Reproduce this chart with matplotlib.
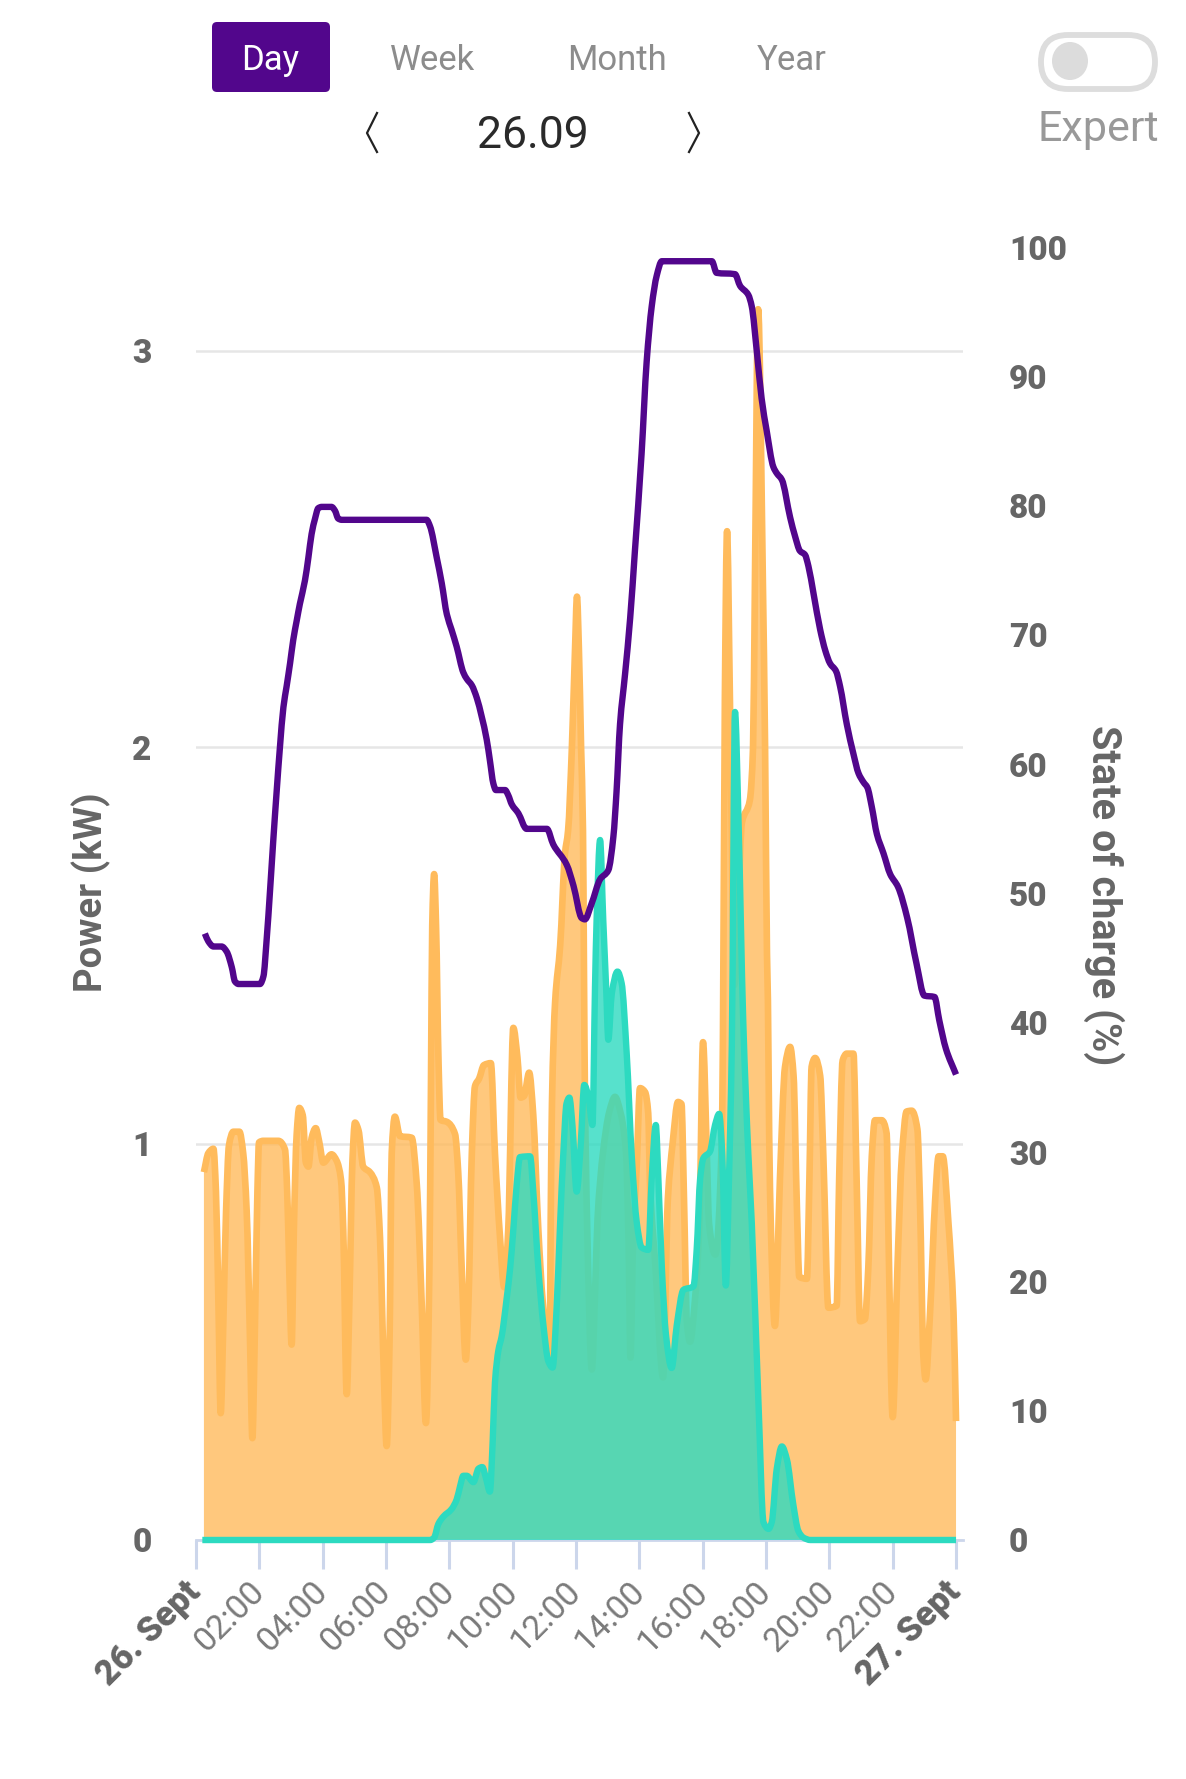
import numpy as np
import matplotlib
matplotlib.use("Agg")
import matplotlib.pyplot as plt
from matplotlib.patches import FancyBboxPatch, Ellipse, PathPatch
from matplotlib.path import Path

plt.rcParams['font.family'] = ['Roboto', 'DejaVu Sans']

# ---- data ----
load_h = [0.25,0.39,0.55,0.63,0.71,0.78,0.86,0.95,1.04,1.18,1.37,1.49,1.6,1.71,1.78,1.85,1.94,1.99,2.13,2.6,2.81,2.88,2.95,3.02,3.09,3.18,3.26,3.37,3.47,3.55,3.65,3.78,3.89,4.02,4.28,4.44,4.58,4.65,4.76,4.84,4.94,5.02,5.13,5.28,5.49,5.71,5.81,5.94,6.02,6.11,6.18,6.28,6.44,6.81,6.97,7.13,7.26,7.37,7.42,7.46,7.52,7.58,7.66,7.72,7.92,8.18,8.28,8.39,8.52,8.6,8.71,8.81,8.94,9.09,9.31,9.44,9.6,9.73,9.86,10.02,10.15,10.25,10.36,10.52,10.65,10.81,10.95,11.1,11.17,11.2,11.24,11.34,11.5,11.65,11.75,11.87,11.97,12.03,12.09,12.16,12.22,12.25,12.28,12.35,12.5,12.6,12.68,12.85,13.05,13.23,13.4,13.58,13.66,13.72,13.8,13.92,14.02,14.18,14.28,14.34,14.5,14.75,14.9,15.05,15.22,15.33,15.41,15.5,15.6,15.75,15.9,16.01,16.13,16.2,16.4,16.6,16.64,16.7,16.77,16.86,17.0,17.24,17.49,17.59,17.65,17.75,17.9,17.97,18.03,18.06,18.1,18.15,18.28,18.44,18.6,18.76,18.87,18.97,19.05,19.29,19.37,19.44,19.55,19.71,19.81,19.97,20.23,20.31,20.42,20.55,20.76,20.86,20.97,21.12,21.23,21.34,21.44,21.65,21.81,21.86,22.0,22.15,22.29,22.44,22.6,22.78,22.86,22.97,23.04,23.18,23.34,23.45,23.58,23.76,23.92,24.0]
load_kw = [.928,.976,.987,.879,.59,.32,.54,.83,.995,1.03,1.03,.976,.83,.49,.257,.49,.88,1.003,1.007,1.007,.985,.88,.667,.493,.783,1.024,1.09,1.072,.952,.942,1.014,1.039,1.005,.952,.973,.957,.908,.783,.368,.59,.957,1.053,1.034,.942,.928,.889,.764,.397,.237,.493,.976,1.068,1.019,1.015,.899,.59,.295,.686,1.15,1.55,1.68,1.55,1.2,1.06,1.055,1.024,.928,.686,.455,.59,.976,1.145,1.164,1.198,1.203,.976,.764,.638,.783,1.292,1.217,1.116,1.12,1.179,1.072,.783,.6,.5,.47,.8,1.1,1.357,1.5,1.73,1.79,2.0,2.25,2.38,2.25,2.0,1.79,1.45,1.14,.8,.43,.62,.81,.976,1.08,1.118,1.08,.976,.75,.46,.75,.95,1.14,1.13,1.077,.89,.7,.41,.86,1.0,1.105,1.10,.86,.55,.5,.6,.81,1.256,.976,.8,.72,1.0,1.27,2.12,2.545,2.12,1.4,1.81,1.867,2.0,2.42,3.105,2.42,2.0,1.48,1.36,1.02,.8,.54,.912,1.194,1.244,1.171,.856,.664,.659,.912,1.194,1.216,1.171,.968,.586,.591,.912,1.21,1.227,1.227,.912,.552,.557,.687,.968,1.059,1.059,1.025,.8,.31,.687,.968,1.081,1.083,1.036,.856,.462,.405,.574,.856,.968,.968,.8,.574,.3]

pv_h = [0.2,7.4,7.52,7.65,7.81,8.07,8.23,8.34,8.44,8.55,8.76,8.92,9.04,9.16,9.28,9.37,9.44,9.55,9.65,9.81,9.92,10.02,10.13,10.23,10.55,10.65,10.81,10.97,11.13,11.26,11.39,11.49,11.6,11.7,11.79,11.89,12.02,12.15,12.26,12.39,12.52,12.6,12.65,12.76,12.86,12.95,13.02,13.13,13.31,13.44,13.6,13.76,13.92,14.07,14.28,14.39,14.52,14.6,14.71,14.84,15.02,15.18,15.39,15.71,15.81,15.92,16.02,16.23,16.39,16.52,16.62,16.73,16.83,16.92,17.02,17.13,17.28,17.44,17.55,17.76,17.92,18.08,18.18,18.34,18.5,18.66,18.86,19.02,19.18,19.4,24.0]
pv_kw = [0,0,.006,.04,.059,.078,.102,.136,.162,.162,.146,.18,.184,.155,.122,.252,.397,.479,.513,.609,.686,.783,.899,.966,.968,.879,.686,.542,.45,.435,.59,.783,.976,1.101,1.116,1.043,.879,1.0,1.148,1.119,1.047,1.396,1.564,1.766,1.564,1.396,1.262,1.379,1.434,1.405,1.228,.968,.8,.738,.732,.912,1.047,.912,.687,.518,.434,.541,.631,.64,.732,.912,.963,.98,1.047,1.075,.968,.642,.912,1.25,2.089,1.817,1.31,.976,.8,.349,.045,.028,.045,.18,.236,.203,.09,.023,.006,0,0]

soc_h = [.28,.39,.55,.81,.97,1.13,1.23,1.34,2.02,2.13,2.23,2.34,2.44,2.55,2.65,2.76,2.86,2.97,3.07,3.18,3.28,3.44,3.55,3.65,3.76,3.86,3.97,4.28,4.39,4.49,4.6,7.28,7.39,7.6,7.76,7.92,8.07,8.23,8.44,8.55,8.71,8.87,9.02,9.18,9.28,9.39,9.47,9.76,9.86,9.97,10.18,10.44,11.08,11.28,11.71,11.92,12.18,12.28,12.49,12.76,13.02,13.18,13.28,13.39,13.55,13.71,13.86,14.07,14.23,14.39,14.55,14.71,16.29,16.44,17.02,17.18,17.44,17.55,17.71,17.86,18.02,18.23,18.34,18.5,18.76,18.92,19.07,19.23,19.34,19.5,19.71,19.87,20.02,20.21,20.34,20.55,20.76,20.92,21.08,21.2,21.34,21.5,21.71,21.92,22.17,22.46,22.75,23.0,23.32,23.47,23.68,24.0]
soc_pct = [46.9,46.3,45.9,45.9,45.5,44.3,43.2,43.0,43.0,43.6,46.4,50.3,54.1,58.0,61.3,64.4,66.0,67.8,69.6,71.1,72.4,74.2,76.0,77.8,79.0,79.8,79.9,79.9,79.6,79.0,78.9,78.9,78.4,76.0,74.0,71.6,70.4,69.1,67.1,66.6,66.1,65.1,63.7,61.9,60.3,58.5,58.0,58.0,57.6,56.9,56.2,55.0,55.0,53.8,52.2,50.6,48.1,48.0,49.2,51.1,51.8,54.4,57.9,63.1,67.0,71.3,76.5,84.0,91.1,95.4,97.8,98.9,98.9,98.0,97.9,97.0,96.3,95.4,91.9,88.3,85.8,83.0,82.5,82.0,79.1,77.6,76.5,76.2,75.3,73.2,70.4,68.8,67.8,67.2,66.0,63.1,60.8,59.3,58.6,58.2,56.7,54.6,53.1,51.5,50.5,48.1,44.6,42.1,42.0,40.2,38.0,36.0]

x_ticks = [0,2,4,6,8,10,12,14,16,18,20,22,24]
x_labels = ['26. Sept','02:00','04:00','06:00','08:00','10:00','12:00','14:00','16:00','18:00','20:00','22:00','27. Sept']
power_ticks = [0,1,2,3]
soc_ticks = [0,10,20,30,40,50,60,70,80,90,100]
tabs = ['Day','Week','Month','Year']

W, H = 1186, 1779
PURPLE='#52068C'; ORANGE='#FFBB5C'; TEAL='#2DDAC0'; GREY='#666666'; TICK='#CCD6EB'

def spline_path(xs, ys, closed=False):
    """Smooth (spline-style, no overshoot) Bezier path through the given data values."""
    x=np.asarray(xs,float); y=np.asarray(ys,float)
    dx=np.diff(x); d=np.diff(y)/dx
    m=np.zeros_like(x); m[0]=d[0]; m[-1]=d[-1]
    for i in range(1,len(x)-1):
        if d[i-1]*d[i]>0:
            w1=2*dx[i]+dx[i-1]; w2=dx[i]+2*dx[i-1]
            m[i]=(w1+w2)/(w1/d[i-1]+w2/d[i])
    verts=[(x[0],y[0])]; codes=[Path.MOVETO]
    for i in range(len(x)-1):
        verts+= [(x[i]+dx[i]/3,y[i]+m[i]*dx[i]/3),(x[i+1]-dx[i]/3,y[i+1]-m[i+1]*dx[i]/3),(x[i+1],y[i+1])]
        codes+= [Path.CURVE4]*3
    if closed:
        verts+= [(x[-1],0),(x[0],0),(x[0],y[0])]
        codes+= [Path.LINETO,Path.LINETO,Path.CLOSEPOLY]
    return Path(verts,codes)

def area(a,xs,ys,color,lw,z,**kw):
    a.add_patch(PathPatch(spline_path(xs,ys,True),fc=color,ec='none',alpha=.8,lw=0,zorder=z))
    a.add_patch(PathPatch(spline_path(xs,ys),fc='none',ec=color,lw=lw,joinstyle='round',capstyle='butt',zorder=z+.1,**kw))

fig = plt.figure(figsize=(W/100,H/100),dpi=100,facecolor='white')
ax = fig.add_axes([196/W,(H-1540)/H,767/W,1293/H])
ax.set_xlim(0,24.22); ax.set_ylim(0,3.262)
for s in ['top','left','right']: ax.spines[s].set_visible(False)
ax.spines['bottom'].set_color(TICK); ax.spines['bottom'].set_linewidth(2)
ax.set_yticks(power_ticks)
ax.grid(axis='y',color='#E6E6E6',lw=1.8); ax.set_axisbelow(True)
ax.tick_params(axis='y',length=0,pad=32,labelsize=24,labelcolor=GREY)
for t in ax.get_yticklabels(): t.set_fontweight('black')
ax.set_xticks(x_ticks)
ax.set_xticklabels(x_labels,rotation=45,ha='right',va='center',rotation_mode='anchor',fontsize=24.5,color='#7A7A7A',fontweight='normal')
ax.tick_params(axis='x',length=21,width=2.2,color=TICK,pad=13)
for i in (0,-1):
    l=ax.get_xticklabels()[i]; l.set_fontweight('black'); l.set_fontsize(25); l.set_color(GREY)

area(ax,load_h,load_kw,ORANGE,4.8,2.0)
area(ax,pv_h,pv_kw,TEAL,4.6,2.7,clip_on=False)

ax2 = ax.twinx()
ax2.set_ylim(0,100); ax2.set_yticks(soc_ticks)
for s in ax2.spines.values(): s.set_visible(False)
ax2.tick_params(axis='y',length=0,pad=33,labelsize=24,labelcolor=GREY)
for t in ax2.get_yticklabels(): t.set_fontweight('black')
ax2.add_patch(PathPatch(spline_path(soc_h,soc_pct),fc='none',ec=PURPLE,lw=4.6,joinstyle='round',capstyle='butt'))

fig.text(91/W,1-892/H,'Power (kW)',rotation=90,ha='center',va='center',fontsize=27.5,fontweight='bold',color=GREY)
fig.text(1104/W,1-895/H,'State of charge (%)',rotation=270,ha='center',va='center',fontsize=28.5,fontweight='bold',color=GREY)

# header widgets
ui = fig.add_axes([0,0,1,1]); ui.set_xlim(0,W); ui.set_ylim(H,0); ui.axis('off'); ui.patch.set_alpha(0)
ui.add_patch(FancyBboxPatch((215,25),112,64,boxstyle='round,pad=3,rounding_size=5',fc='#52068C',ec='none'))
for name,x,c in zip(tabs,[270,433,617,792],['white','#8C8C8C','#8C8C8C','#8C8C8C']):
    ui.text(x,60.5,name,ha='center',va='center',fontsize=25,color=c,fontweight='normal')
ui.text(533,136,'26.09',ha='center',va='center',fontsize=32,color='#2A2A2A',fontweight='normal')
ui.plot([377,367,377],[113,133,152],color='#222222',lw=1.6)
ui.plot([689,699,689],[113,133,152],color='#222222',lw=1.6)
ui.add_patch(FancyBboxPatch((1041,35),114,54,boxstyle='round,pad=0,rounding_size=27',fc='white',ec='#DDDDDD',lw=4.2))
ui.add_patch(Ellipse((1070,61),36,38,fc='#DCDCDC',ec='none'))
ui.text(1098,130,'Expert',ha='center',va='center',fontsize=31,color='#999999',fontweight='normal')

fig.savefig('out.png',dpi=100)
